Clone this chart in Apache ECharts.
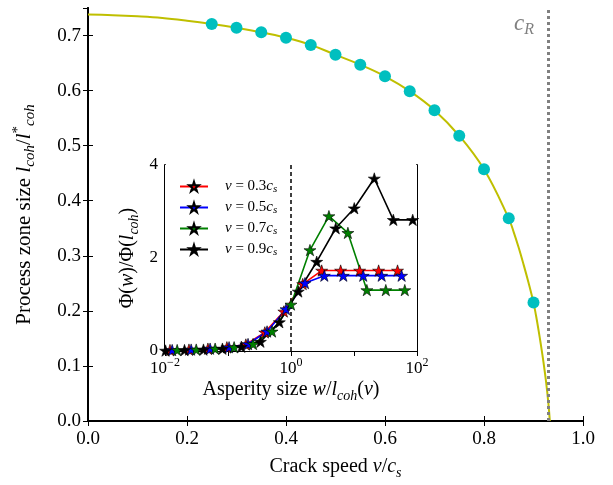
<!DOCTYPE html>
<html>
<head>
<meta charset="utf-8">
<script src="https://cdn.jsdelivr.net/npm/echarts@6/dist/echarts.min.js"></script>
<style>
  html, body { margin: 0; padding: 0; background: #fff; }
  #chart { width: 613px; height: 485px; }
</style>
</head>
<body>
<div id="chart"></div>
<script type="text/javascript">
    // main plot: process zone size vs crack speed
    var curveV = [0, 0.05, 0.1, 0.15, 0.2, 0.25, 0.3, 0.35, 0.4, 0.45, 0.5, 0.55, 0.6, 0.65, 0.7, 0.75, 0.8, 0.85, 0.86, 0.87, 0.88, 0.89, 0.9, 0.905, 0.91, 0.915, 0.92, 0.925, 0.93, 0.933];
    var curveL = [0.738, 0.737, 0.735, 0.732, 0.727, 0.721, 0.714, 0.706, 0.696, 0.683, 0.665, 0.647, 0.626, 0.599, 0.5645, 0.518, 0.457, 0.368, 0.343, 0.315, 0.284, 0.251, 0.215, 0.192, 0.166, 0.138, 0.108, 0.074, 0.033, 0];
    var dotV = [0.25, 0.3, 0.35, 0.4, 0.45, 0.5, 0.55, 0.6, 0.65, 0.7, 0.75, 0.8, 0.85, 0.9];
    var dotL = [0.721, 0.714, 0.706, 0.696, 0.683, 0.665, 0.647, 0.626, 0.599, 0.5645, 0.518, 0.457, 0.368, 0.215];
    var cR = 0.933;

    // inset: Phi(w)/Phi(l_coh) vs w/l_coh(v)
    var w03 = [0.012, 0.024, 0.048, 0.096, 0.192, 0.384, 0.77, 1.535, 3.07, 6.14, 12.3, 24.6, 49.1];
    var phi03 = [0.02, 0.03, 0.05, 0.08, 0.14, 0.4, 0.85, 1.44, 1.73, 1.73, 1.73, 1.73, 1.73];
    var w05 = [0.013, 0.026, 0.052, 0.104, 0.208, 0.417, 0.833, 1.667, 3.38, 6.76, 14.0, 27.5, 57];
    var phi05 = [0.02, 0.03, 0.05, 0.08, 0.15, 0.42, 0.9, 1.46, 1.62, 1.62, 1.62, 1.62, 1.62];
    var w07 = [0.0156, 0.0313, 0.0625, 0.125, 0.25, 0.5, 1, 2, 4, 8, 16, 32, 64];
    var phi07 = [0.02, 0.03, 0.05, 0.08, 0.15, 0.42, 1.0, 2.17, 2.9, 2.54, 1.31, 1.31, 1.31];
    var w09 = [0.0102, 0.0204, 0.0408, 0.0816, 0.163, 0.327, 0.653, 1.306, 2.56, 5.13, 10.1, 21.0, 42.1, 85.5];
    var phi09 = [0.01, 0.02, 0.03, 0.05, 0.09, 0.2, 0.62, 1.28, 1.92, 2.64, 3.07, 3.71, 2.82, 2.82];
    var speeds = ['0.3', '0.5', '0.7', '0.9'];
    var colors = ['#ff0000', '#0000ff', '#008000', '#000000'];
    var wRef = 1;

    var font = 'Liberation Serif';
    var star = 'path://M50,0 L61.23,34.55 L97.55,34.55 L68.16,55.9 L79.39,90.45 L50,69.1 L20.61,90.45 L31.84,55.9 L2.45,34.55 L38.77,34.55 Z';

    function pairs(xs, ys) {
        return xs.map(function (x, i) { return [x, ys[i]]; });
    }

    // rich text styles for math bits
    function mathRich(size, lh) {
        lh = lh || size + 6;
        return {
            i: { fontFamily: font, fontStyle: 'italic', fontSize: size, lineHeight: lh, verticalAlign: 'middle', color: '#000' },
            n: { fontFamily: font, fontSize: size, lineHeight: lh, verticalAlign: 'middle', color: '#000' },
            sub: { fontFamily: font, fontStyle: 'italic', fontSize: Math.round(size * 0.7), lineHeight: 10, verticalAlign: 'bottom', color: '#000' },
            sup: { fontFamily: font, fontSize: Math.round(size * 0.7), lineHeight: 10, verticalAlign: 'top', color: '#000' }
        };
    }

    function insetSeries(k, ws, phis) {
        return {
            name: speeds[k],
            type: 'line',
            xAxisIndex: 2,
            yAxisIndex: 2,
            data: pairs(ws, phis),
            symbol: star,
            symbolSize: 12,
            symbolKeepAspect: true,
            z: 5,
            lineStyle: { color: colors[k], width: 1.6 },
            itemStyle: { color: colors[k], borderColor: '#000', borderWidth: 0.6 }
        };
    }

    var axisLineStyle = { lineStyle: { color: '#000', width: 2 } };
    var tickStyle = { inside: true, length: 5, lineStyle: { color: '#000', width: 1 } };

    var myChart = echarts.init(document.getElementById('chart'));
    var option = {
        animation: false,
        backgroundColor: '#fff',
        textStyle: { fontFamily: font },
        grid: [
            { left: 88, top: 8, width: 495, height: 417, show: false },
            { left: 165, top: 165, width: 252, height: 186, show: true, backgroundColor: '#fff', borderWidth: 0, z: 3 }
        ],
        legend: {
            data: speeds,
            orient: 'vertical',
            left: 174,
            top: 174,
            itemWidth: 28,
            itemHeight: 12,
            itemGap: 5,
            z: 6,
            formatter: function (name) {
                return '{i|v} = ' + name + '{i|c}{sub|s}';
            },
            textStyle: { fontFamily: font, fontSize: 15, color: '#000', padding: [0, 0, 0, 12], rich: mathRich(15, 17) }
        },
        xAxis: [
            {
                gridIndex: 0, type: 'value', min: 0, max: 1, interval: 0.2, position: 'bottom',
                axisLine: axisLineStyle, axisTick: tickStyle, splitLine: { show: false },
                axisLabel: { color: '#000', fontSize: 19, fontFamily: font, margin: 9, formatter: function (v) { return v.toFixed(1); } },
                name: 'Crack speed {i|v}/{i|c}{sub|s}', nameLocation: 'middle', nameGap: 33,
                nameTextStyle: { color: '#000', fontSize: 20, fontFamily: font, rich: mathRich(20) }
            },
            {
                gridIndex: 0, type: 'value', min: 0, max: 1, interval: 0.2, position: 'top',
                axisLine: axisLineStyle, axisTick: tickStyle, splitLine: { show: false }, axisLabel: { show: false }
            },
            {
                gridIndex: 1, type: 'log', logBase: 10, min: 0.01, max: 100, position: 'bottom',
                axisLine: axisLineStyle, axisTick: tickStyle, splitLine: { show: false },
                axisLabel: {
                    color: '#000', fontSize: 17, fontFamily: font, margin: 6,
                    formatter: function (v) {
                        var e = Math.round(Math.log(v) / Math.LN10);
                        if (e % 2 !== 0) return '';
                        return '{n|10}{sup|' + (e < 0 ? '\u2212' + (-e) : e) + '}';
                    },
                    rich: mathRich(17)
                },
                name: 'Asperity size {i|w}/{i|l}{sub|coh}({i|v})', nameLocation: 'middle', nameGap: 26,
                nameTextStyle: { color: '#000', fontSize: 20, fontFamily: font, rich: mathRich(20) }
            },
            {
                gridIndex: 1, type: 'log', logBase: 10, min: 0.01, max: 100, position: 'top',
                axisLine: axisLineStyle, axisTick: tickStyle, splitLine: { show: false }, axisLabel: { show: false }
            }
        ],
        yAxis: [
            {
                gridIndex: 0, type: 'value', min: 0, max: 0.75, interval: 0.1, position: 'left',
                axisLine: axisLineStyle, axisTick: tickStyle, splitLine: { show: false },
                axisLabel: {
                    color: '#000', fontSize: 19, fontFamily: font, margin: 7, showMaxLabel: false,
                    formatter: function (v) { return v > 0.72 ? '' : v.toFixed(1); }
                },
                name: 'Process zone size {i|l}{sub|coh}/{i|l}{sup|*}{sub|coh}', nameLocation: 'middle', nameRotate: 90, nameGap: 50,
                nameTextStyle: { color: '#000', fontSize: 21, fontFamily: font, rich: mathRich(21) }
            },
            {
                gridIndex: 0, type: 'value', min: 0, max: 0.75, interval: 0.1, position: 'right',
                axisLine: axisLineStyle, axisTick: tickStyle, splitLine: { show: false }, axisLabel: { show: false }
            },
            {
                gridIndex: 1, type: 'value', min: 0, max: 4, interval: 2, position: 'left',
                axisLine: axisLineStyle, axisTick: tickStyle, splitLine: { show: false },
                axisLabel: { color: '#000', fontSize: 17, fontFamily: font, margin: 7 },
                name: '\u03A6({i|w})/\u03A6({i|l}{sub|coh})', nameLocation: 'middle', nameRotate: 90, nameGap: 24,
                nameTextStyle: { color: '#000', fontSize: 20, fontFamily: font, rich: mathRich(20) }
            },
            {
                gridIndex: 1, type: 'value', min: 0, max: 4, interval: 2, position: 'right',
                axisLine: axisLineStyle, axisTick: tickStyle, splitLine: { show: false }, axisLabel: { show: false }
            }
        ],
        graphic: [
            {
                type: 'text', left: 514, top: 12, z: 10,
                style: {
                    text: '{i|c}{sub|R}',
                    fill: '#808080',
                    rich: {
                        i: { fontFamily: font, fontStyle: 'italic', fontSize: 23, lineHeight: 28, verticalAlign: 'middle', fill: '#808080' },
                        sub: { fontFamily: font, fontStyle: 'italic', fontSize: 16, lineHeight: 10, verticalAlign: 'bottom', fill: '#808080' }
                    }
                }
            }
        ],
        series: [
            {
                type: 'line',
                xAxisIndex: 0, yAxisIndex: 0,
                data: pairs(curveV, curveL),
                showSymbol: false,
                smooth: 0.4,
                lineStyle: { color: '#bfbf00', width: 2 },
                markLine: {
                    silent: true,
                    symbol: 'none',
                    label: { show: false },
                    lineStyle: { color: '#808080', width: 3, type: [3, 3] },
                    data: [{ xAxis: cR }]
                }
            },
            {
                type: 'scatter',
                xAxisIndex: 0, yAxisIndex: 0,
                data: pairs(dotV, dotL),
                symbolSize: 12,
                z: 3,
                itemStyle: { color: '#00bfbf', opacity: 1 }
            },
            insetSeries(0, w03, phi03),
            insetSeries(1, w05, phi05),
            insetSeries(2, w07, phi07),
            insetSeries(3, w09, phi09),
            {
                type: 'line',
                xAxisIndex: 2, yAxisIndex: 2,
                data: [],
                z: 4,
                markLine: {
                    silent: true,
                    symbol: 'none',
                    label: { show: false },
                    lineStyle: { color: '#000', width: 1.5, type: [4, 3] },
                    data: [{ xAxis: wRef }]
                }
            }
        ]
    };
    myChart.setOption(option);
</script>
</body>
</html>
